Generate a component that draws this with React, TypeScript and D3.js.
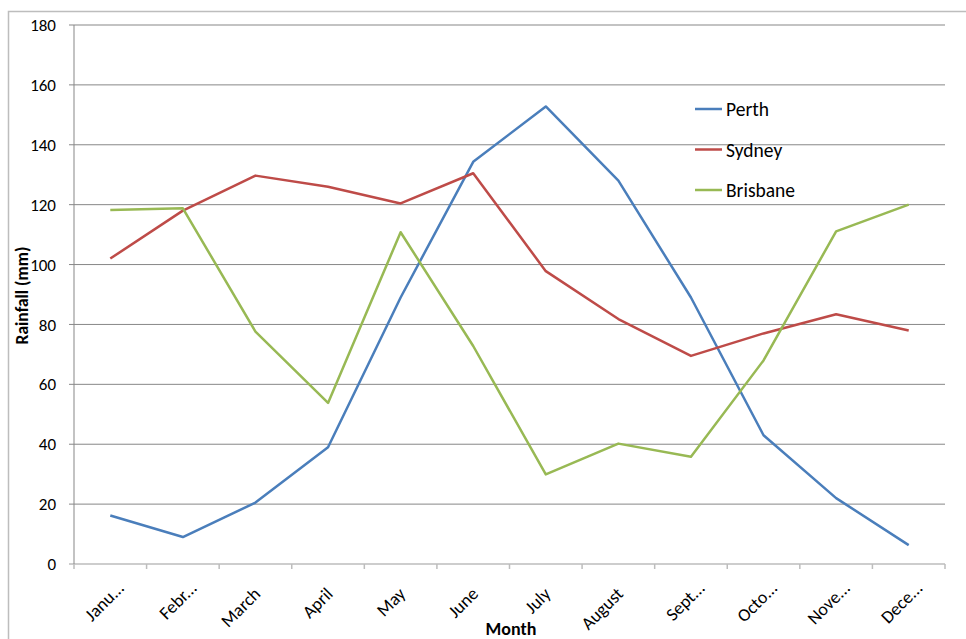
import React from "react";
import * as d3 from "d3";

const months = ["Janu...", "Febr...", "March", "April", "May", "June", "July", "August", "Sept...", "Octo...", "Nove...", "Dece..."];
const perth = [16.2, 9, 20.5, 39, 89, 134.3, 152.8, 128, 89, 43, 22, 6.3];
const sydney = [102, 118, 129.7, 126, 120.4, 130.5, 97.8, 81.8, 69.5, 77, 83.4, 78];
const brisbane = [118.2, 118.8, 77.6, 53.8, 110.8, 72.8, 29.9, 40.2, 35.8, 68, 111.1, 120];
const yTicks = [0, 20, 40, 60, 80, 100, 120, 140, 160, 180];
const seriesNames = ["Perth", "Sydney", "Brisbane"];
const seriesColors = ["#4A7EBB", "#BE4B48", "#98B954"];
const seriesData = [perth, sydney, brisbane];

const FONT = "Carlito, Calibri, Lato, 'Open Sans', sans-serif";

export default function App() {
  const W = 966, H = 639;
  const left = 74, right = 945, top = 25, bottom = 564;
  const x = d3.scaleBand<string>().domain(months).range([left, right]).padding(0);
  const y = d3.scaleLinear().domain([0, 180]).range([bottom, top]);
  const line = d3.line<number>()
    .x((_, i) => (x(months[i]) as number) + x.bandwidth() / 2)
    .y((d) => y(d));
  const tickXs = months.map((m) => x(m) as number).concat([right]);

  return (
    <svg width={W} height={H} style={{ position: "absolute", left: 0, top: 0, background: "#fff" }} fontFamily={FONT}>
      <rect x={8.5} y={11.5} width={W + 10} height={H + 10} fill="#fff" stroke="#BDBDBD" strokeWidth={1.5} />
      {yTicks.map((t) => (
        <line key={"g" + t} x1={left - 5} x2={right} y1={y(t)} y2={y(t)} stroke={t === 0 ? "#BDBDBD" : "#878787"} strokeWidth={t === 0 ? 1.5 : 1} />
      ))}
      <line x1={left} x2={left} y1={top} y2={bottom} stroke="#878787" strokeWidth={1} />
      {tickXs.map((tx, i) => (
        <line key={"xt" + i} x1={tx} x2={tx} y1={bottom} y2={bottom + 5} stroke="#BDBDBD" strokeWidth={1.5} />
      ))}
      {yTicks.map((t) => (
        <text key={"yl" + t} x={56} y={y(t)} dy="0.36em" textAnchor="end" fontSize={17} fill="#000">{t}</text>
      ))}
      {months.map((m) => {
        const cx = (x(m) as number) + x.bandwidth() / 2;
        const trunc = m.endsWith("...");
        const dx = trunc ? 15 : 6;
        const dy = trunc ? 25 : 31;
        return (
          <text key={"xl" + m} transform={`translate(${cx + dx},${bottom + dy}) rotate(-45)`} textAnchor="end" fontSize={18} fill="#000">{m}</text>
        );
      })}
      {seriesData.map((s, i) => (
        <path key={"s" + i} d={line(s) as string} fill="none" stroke={seriesColors[i]} strokeWidth={2.5} strokeLinejoin="round" />
      ))}
      {seriesNames.map((n, i) => (
        <g key={"lg" + n} transform={`translate(695,${109 + i * 40.5})`}>
          <line x1={0} x2={27} y1={0} y2={0} stroke={seriesColors[i]} strokeWidth={2.5} />
          <text x={31} y={0} dy="0.36em" fontSize={19.5} fill="#000">{n}</text>
        </g>
      ))}
      <text transform={`translate(28,295.5) rotate(-90)`} textAnchor="middle" fontSize={17.5} fontWeight="bold" fill="#000">Rainfall (mm)</text>
      <text x={511} y={635} textAnchor="middle" fontSize={18} fontWeight="bold" fill="#000">Month</text>
    </svg>
  );
}
